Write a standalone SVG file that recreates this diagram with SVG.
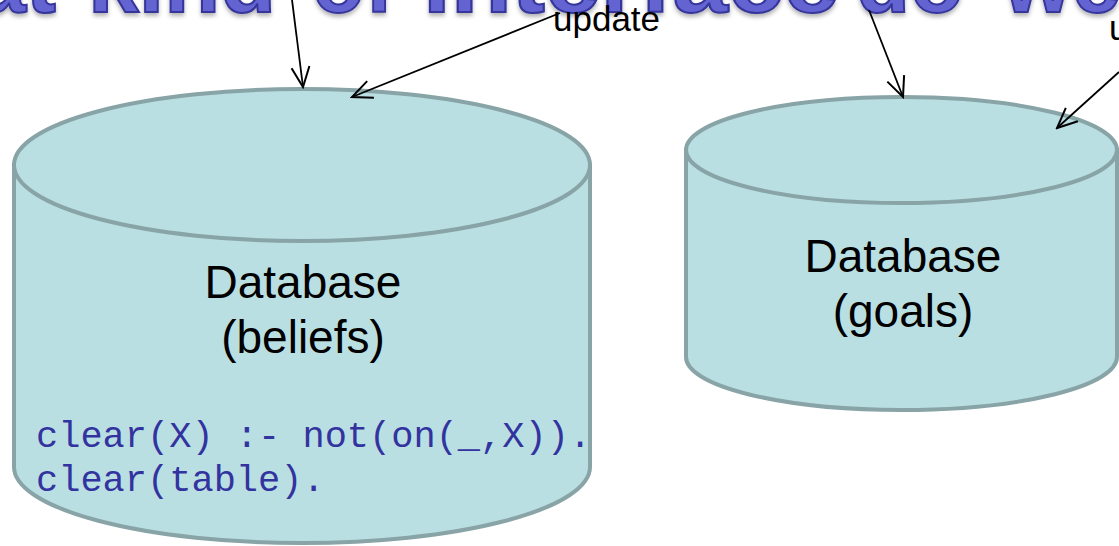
<svg xmlns="http://www.w3.org/2000/svg" width="1119" height="546" viewBox="0 0 1119 546">
  <style>
    .title { font-family: "Liberation Sans", Arial, sans-serif; font-weight: bold; font-size: 90px; fill: #6464d2; stroke: #34349a; stroke-width: 2; }
    .cyl { fill: #b9dfe3; stroke: #88a4a7; stroke-width: 4; }
    .label { font-family: "Liberation Sans", Arial, sans-serif; font-size: 46px; fill: #000; text-anchor: middle; }
    .code { font-family: "Liberation Mono", "Courier New", monospace; font-size: 37px; fill: #3333a0; }
    .small { font-family: "Liberation Sans", Arial, sans-serif; font-size: 35px; fill: #000; }
    .conn { stroke: #000; stroke-width: 1.8; fill: none; marker-end: url(#arrow); }
  </style>
  <defs>
    <marker id="arrow" viewBox="0 0 24 24" refX="22" refY="12" markerWidth="24" markerHeight="24" markerUnits="userSpaceOnUse" orient="auto">
      <path d="M2,3 L22,12 L2,21" fill="none" stroke="#000" stroke-width="2"/>
    </marker>
    <filter id="shadow" x="-5%" y="-50%" width="110%" height="200%">
      <feDropShadow dx="0" dy="3" stdDeviation="2" flood-color="#000" flood-opacity="0.3"/>
    </filter>
  </defs>

  <g id="title" filter="url(#shadow)">
    <text class="title" y="12">
      <tspan x="-24">at</tspan>
      <tspan x="88" textLength="188" lengthAdjust="spacingAndGlyphs">kind</tspan>
      <tspan x="312" textLength="82" lengthAdjust="spacingAndGlyphs">of</tspan>
      <tspan x="423" textLength="416" lengthAdjust="spacingAndGlyphs">interface</tspan>
      <tspan x="856" textLength="108" lengthAdjust="spacingAndGlyphs">do</tspan>
      <tspan x="1003" textLength="118" lengthAdjust="spacingAndGlyphs">we</tspan>
    </text>
  </g>

  <g id="db-beliefs">
    <path class="cyl" d="M14,165 L14,467 A288,76 0 0 0 590,467 L590,165 Z"/>
    <ellipse class="cyl" cx="302" cy="165" rx="288" ry="76"/>
    <text class="label" x="303" y="298">Database</text>
    <text class="label" x="303" y="353">(beliefs)</text>
    <text class="code" x="36" y="447">clear(X) :- not(on(_,X)).</text>
    <text class="code" x="36" y="491">clear(table).</text>
  </g>

  <g id="db-goals">
    <path class="cyl" d="M686,150 L686,357 A215.5,53 0 0 0 1117,357 L1117,150 Z"/>
    <ellipse class="cyl" cx="901.5" cy="150" rx="215.5" ry="53"/>
    <text class="label" x="903" y="272">Database</text>
    <text class="label" x="903" y="327">(goals)</text>
  </g>

  <g id="labels">
    <text class="small" x="553" y="31">update</text>
    <text class="small" x="1109" y="40">update</text>
  </g>

  <g id="connectors">
    <line class="conn" x1="292" y1="0" x2="303" y2="87"/>
    <line class="conn" x1="560" y1="13" x2="352" y2="97"/>
    <line class="conn" x1="869" y1="10" x2="903" y2="97"/>
    <line class="conn" x1="1119" y1="72" x2="1057" y2="128"/>
  </g>
</svg>
